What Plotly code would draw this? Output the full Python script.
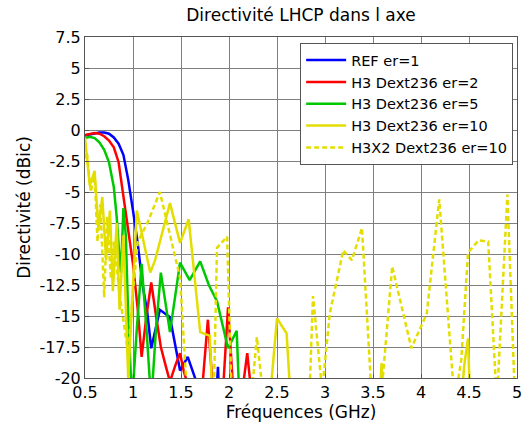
import plotly.graph_objects as go

# axes
x_ticks = [0.5, 1, 1.5, 2, 2.5, 3, 3.5, 4, 4.5, 5]
x_labels = ["0.5", "1", "1.5", "2", "2.5", "3", "3.5", "4", "4.5", "5"]
y_ticks = [7.5, 5, 2.5, 0, -2.5, -5, -7.5, -10, -12.5, -15, -17.5, -20]
y_labels = ["7.5", "5", "2.5", "0", "-2.5", "-5", "-7.5", "-10", "-12.5", "-15", "-17.5", "-20"]

# REF er=1
f_ref = [0.5, 0.55, 0.6, 0.65, 0.7, 0.75, 0.8, 0.85, 0.9, 0.95, 1.0, 1.05, 1.1, 1.15,
         1.19, 1.28, 1.385, 1.49, 1.57, 1.66, 1.75, 1.86, 1.885, 1.91]
d_ref = [-0.45, -0.35, -0.25, -0.2, -0.2, -0.3, -0.6, -1.1, -2.0, -4.0, -6.5, -9.2, -12.5, -14.8,
         -17.6, -14.5, -15.1, -19.4, -18.3, -20.3, -25, -22.5, -19.1, -24]

# H3 Dext236 er=2
f_er2 = [0.5, 0.55, 0.6, 0.65, 0.7, 0.75, 0.8, 0.85, 0.9, 0.95, 1.0, 1.05, 1.09, 1.14, 1.19,
         1.24, 1.29, 1.34, 1.385, 1.44, 1.49, 1.53, 1.58, 1.63, 1.68, 1.73, 1.78, 1.82, 1.87,
         1.93, 1.99, 2.04, 2.09, 2.14, 2.19, 2.23, 2.28]
d_er2 = [-0.4, -0.3, -0.25, -0.3, -0.5, -0.85, -1.4, -2.6, -5.2, -8.2, -10.8, -14.5, -18.3, -15.0, -12.3,
         -15.0, -17.5, -19.0, -20.3, -19.0, -18.0, -19.5, -20.8, -22, -24, -20, -15.3, -21, -25,
         -22, -14.3, -20.5, -24, -21, -18.0, -21, -25]

# H3 Dext236 er=5
f_er5 = [0.5, 0.55, 0.6, 0.65, 0.7, 0.75, 0.8, 0.83, 0.855, 0.875, 0.9, 0.925, 0.95, 0.99, 1.04,
         1.09, 1.14, 1.19, 1.24, 1.29, 1.385, 1.49, 1.59, 1.7, 1.79, 1.875, 1.99, 2.08, 2.12]
d_er5 = [-0.65, -0.55, -0.65, -1.0, -1.6, -2.6, -4.6, -7.0, -9.8, -11.5, -6.3, -8.5, -15, -22, -16,
         -10.8, -16, -22, -16, -11.5, -16.3, -10.7, -12.1, -10.6, -12.5, -13.8, -17.6, -16.2, -24]

# H3 Dext236 er=10
f_er10 = [0.5, 0.55, 0.6, 0.64, 0.68, 0.72, 0.76, 0.79, 0.83, 0.86, 0.9, 0.95, 1.04, 1.18, 1.23,
          1.385, 1.49, 1.58, 1.7, 1.8, 1.84, 2.4, 2.5, 2.6, 2.66, 3.55, 3.59, 3.62, 4.4, 4.45,
          4.49, 4.52, 5.0]
d_er10 = [-0.6, -4.5, -3.3, -8.0, -5.4, -10.5, -6.5, -13.0, -7.5, -14.5, -8.5, -20.0, -6.5, -11.5, -10.5,
          -5.9, -9.1, -7.2, -16.3, -16.6, -24, -24, -15.2, -16.4, -24, -24, -18.8, -24, -24, -19,
          -16.8, -24, -24]

# H3X2 Dext236 er=10
f_x2 = [0.5, 0.52, 0.56, 0.6, 0.63, 0.66, 0.7, 0.73, 0.77, 0.8, 0.865, 0.95, 1.0, 1.05, 1.15,
        1.28, 1.35, 1.49, 1.56, 1.65, 1.75, 1.84, 1.875, 1.98, 2.03, 2.1, 2.24, 2.29, 2.35, 2.45,
        2.75, 2.84, 2.875, 2.97, 3.05, 3.19, 3.28, 3.385, 3.49, 3.58, 3.7, 3.9, 4.06, 4.19, 4.35,
        4.42, 4.49, 4.6, 4.7, 4.79, 4.9, 4.98]
d_x2 = [-2.3, -1.8, -5.0, -3.5, -9.0, -6.0, -13.5, -7.0, -12.0, -9.0, -13.5, -18.0, -13.0, -9.0, -7.5,
        -5.0, -7.3, -11.9, -21, -25, -25, -22, -9.5, -8.6, -22, -25, -21, -16.7, -21, -25,
        -25, -21, -13.4, -21, -14.8, -9.7, -10.5, -7.9, -22, -22, -11.0, -17.6, -14.8, -5.6, -22,
        -18.5, -9.9, -8.9, -9.0, -22, -5.2, -22]

yellow = "#E3DE00"

fig = go.Figure()
fig.add_trace(go.Scatter(x=f_ref, y=d_ref, mode="lines", name="REF er=1",
                         line=dict(color="#0000FF", width=2.5)))
fig.add_trace(go.Scatter(x=f_er2, y=d_er2, mode="lines", name="H3 Dext236 er=2",
                         line=dict(color="#FF0000", width=2.5)))
fig.add_trace(go.Scatter(x=f_er5, y=d_er5, mode="lines", name="H3 Dext236 er=5",
                         line=dict(color="#00C800", width=2.5)))
fig.add_trace(go.Scatter(x=f_er10, y=d_er10, mode="lines", name="H3 Dext236 er=10",
                         line=dict(color=yellow, width=2.5)))
fig.add_trace(go.Scatter(x=f_x2, y=d_x2, mode="lines", name="H3X2 Dext236 er=10",
                         line=dict(color=yellow, width=2.5, dash="5px,3px")))

axis_common = dict(showgrid=True, gridcolor="#7F7F7F", gridwidth=1,
                   showline=True, linecolor="#555555", linewidth=1, mirror=True,
                   ticks="inside", ticklen=4, tickcolor="#555555", automargin=False,
                   ticklabeloverflow="allow",
                   zeroline=False, tickfont=dict(size=16, color="black"))

fig.update_layout(
    width=522, height=426,
    margin=dict(l=85, r=5, t=37, b=48),
    paper_bgcolor="white", plot_bgcolor="white",
    font=dict(family="DejaVu Sans, sans-serif", color="black"),
    title=dict(text="Directivité LHCP dans l axe", x=0.5, xref="paper", xanchor="center",
               y=0.965, yanchor="middle", font=dict(size=17)),
    xaxis=dict(range=[0.5, 5], tickvals=x_ticks, ticktext=x_labels,
               title=dict(text="Fréquences (GHz)", font=dict(size=17), standoff=2),
               **axis_common),
    yaxis=dict(range=[-20, 7.5], tickvals=y_ticks, ticktext=y_labels,
               title=dict(text="Directivité (dBic)", font=dict(size=17), standoff=4),
               **axis_common),
    legend=dict(x=0.498, y=0.982, xanchor="left", yanchor="top",
                bgcolor="white", bordercolor="#555555", borderwidth=1,
                font=dict(size=14.5), itemwidth=40),
    showlegend=True,
)

fig.write_html("out.html", config={"displayModeBar": False},
               post_script="document.body.style.margin='0';")
